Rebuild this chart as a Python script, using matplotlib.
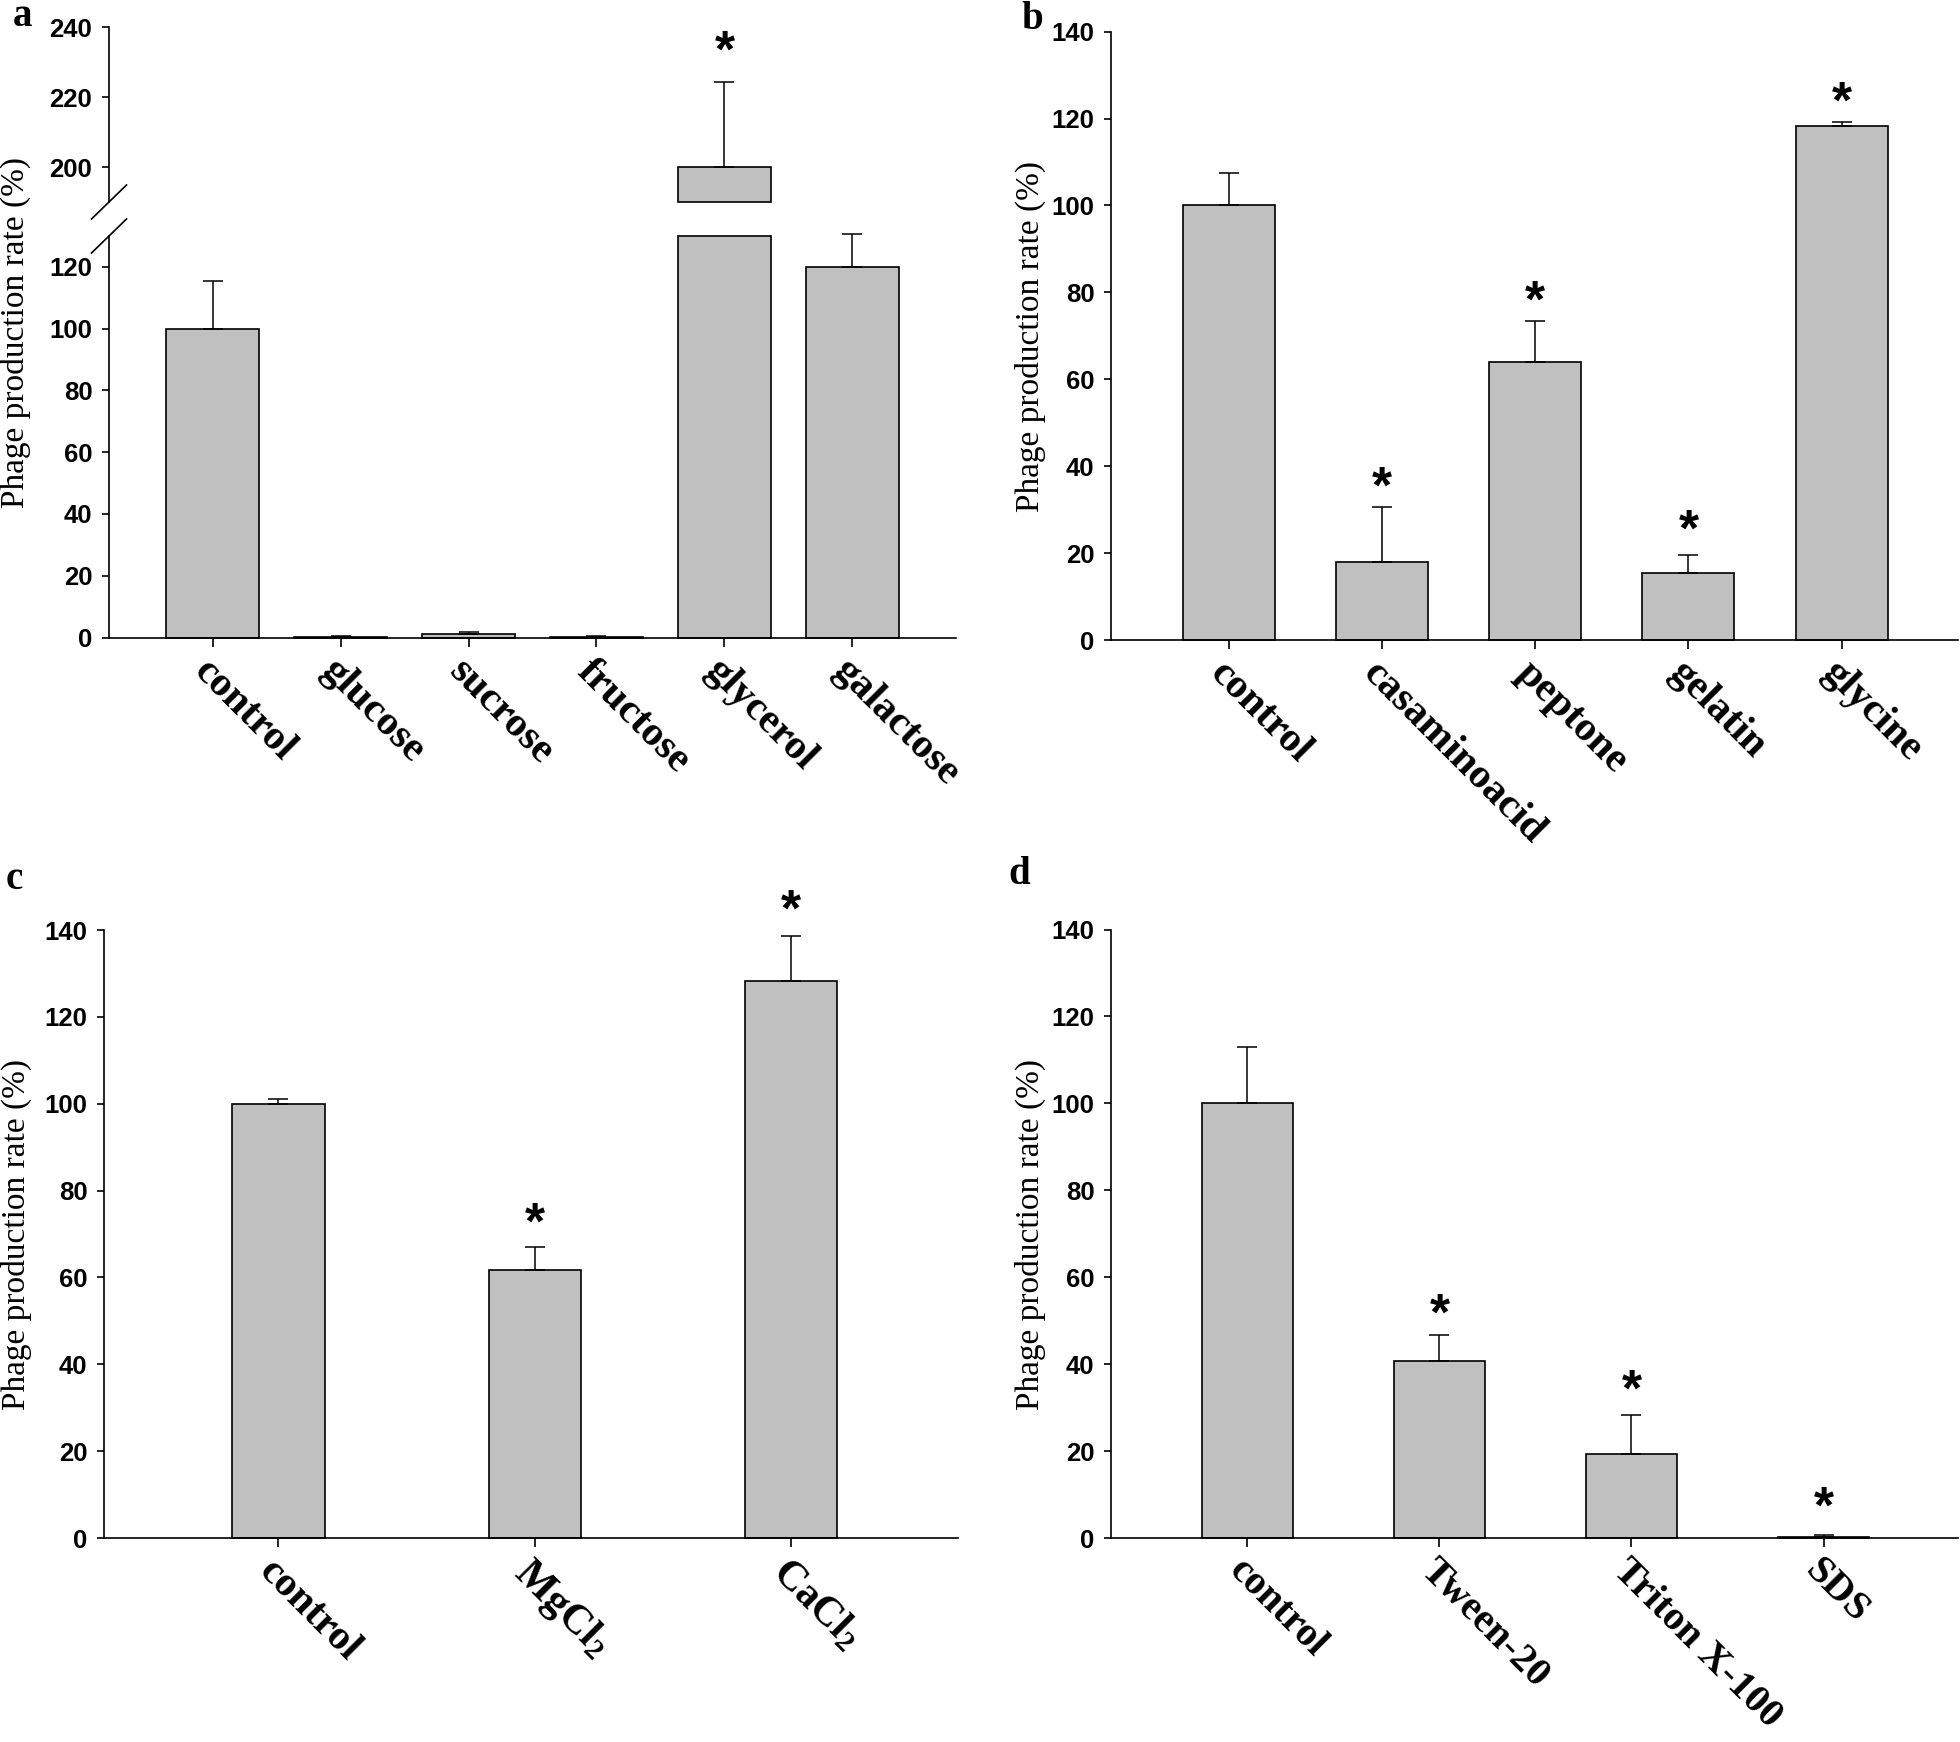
import numpy as np
import matplotlib.pyplot as plt
from matplotlib import transforms

plt.rcParams['mathtext.fontset'] = 'custom'
plt.rcParams['mathtext.rm'] = 'Liberation Serif:bold'
plt.rcParams['mathtext.it'] = 'Liberation Serif:bold'
plt.rcParams['mathtext.default'] = 'rm'

# ---- data ----
a_labels = ['control', 'glucose', 'sucrose', 'fructose', 'glycerol', 'galactose']
a_vals = np.array([100, 0.05, 1.2, 0.05, 200, 120])
a_err = np.array([15.3, 0.3, 0.6, 0.3, 24.5, 10.8])
a_star = [None, None, None, None, 236, None]
A_LOW_MAX, A_HIGH_MIN = 130, 190

b_labels = ['control', 'casaminoacid', 'peptone', 'gelatin', 'glycine']
b_vals = np.array([100, 18.0, 63.9, 15.5, 118.2])
b_err = np.array([7.5, 12.6, 9.6, 4.1, 1.1])
b_star = [None, 37.3, 80.0, 27.5, 125.8]

c_labels = ['control', 'MgCl$_2$', 'CaCl$_2$']
c_vals = np.array([100, 61.6, 128.3])
c_err = np.array([1.2, 5.3, 10.3])
c_star = [None, 74.6, 146.8]

d_labels = ['control', 'Tween-20', 'Triton X-100', 'SDS']
d_vals = np.array([100, 40.7, 19.3, 0.3])
d_err = np.array([12.9, 6.0, 9.0, 0.3])
d_star = [None, 53.6, 36.1, 9.2]

W, H = 1960, 1742
fig = plt.figure(figsize=(W / 100, H / 100), dpi=100)

BAR = '#c0c0c0'
LW = 1.2
STAR_SIZE = 37


def add_ax(x0, x1, y0, y1):
    # pixel box, y measured from the top
    return fig.add_axes([x0 / W, 1 - y1 / H, (x1 - x0) / W, (y1 - y0) / H])


def style_y(ax, ticks):
    ax.spines['top'].set_visible(False)
    ax.spines['right'].set_visible(False)
    ax.spines['left'].set_linewidth(LW)
    ax.spines['bottom'].set_linewidth(LW)
    ax.set_yticks(ticks)
    ax.set_yticklabels([str(t) for t in ticks], fontfamily='Liberation Sans',
                       fontweight='bold', fontsize=18.5)
    ax.tick_params(axis='y', length=5, width=LW, pad=7)


def style_x(ax, labels, size=30):
    x = np.arange(len(labels))
    ax.set_xticks(x)
    ax.set_xticklabels(labels, rotation=-45, ha='left', va='top',
                       rotation_mode='anchor', fontfamily='Liberation Serif',
                       fontweight='bold', fontsize=size)
    ax.tick_params(axis='x', length=6.5, width=LW, pad=4)


def errs(ax, x, vals, err):
    ax.errorbar(x, vals, yerr=[np.zeros(len(vals)), err], fmt='none',
                ecolor='black', elinewidth=1.1, capsize=7, capthick=1.1,
                zorder=3, clip_on=False)


def bars(ax, vals, err, width):
    x = np.arange(len(vals))
    ax.bar(x, vals, width, color=BAR, edgecolor='black',
           linewidth=LW, zorder=2, clip_on=False)
    errs(ax, x, vals, err)


def stars(ax, ys):
    tr = transforms.offset_copy(ax.transData, fig=fig, y=-0.48 * STAR_SIZE,
                                units='points')
    for i, y in enumerate(ys):
        if y is None:
            continue
        ax.text(i, y, '*', transform=tr, ha='center', va='baseline',
                fontfamily='Liberation Sans', fontweight='bold',
                fontsize=STAR_SIZE, clip_on=False)


def ylabel(xc, yc):
    fig.text(xc / W, 1 - yc / H, 'Phage production rate (%)', rotation=90,
             ha='center', va='center', fontfamily='Liberation Serif', fontsize=24)


def letter(s, x, y):
    fig.text(x / W, 1 - y / H, s, ha='left', va='baseline',
             fontfamily='Liberation Serif', fontweight='bold', fontsize=28)


# ---- panel a (broken axis) ----
ax_lo = add_ax(109, 956, 236, 637.5)
ax_hi = add_ax(109, 956, 27.5, 202)
xa = np.arange(len(a_vals))

ax_lo.bar(xa, np.minimum(a_vals, A_LOW_MAX), 0.73, color=BAR, edgecolor='black',
          linewidth=LW, zorder=2, clip_on=False)
lo = a_vals < A_LOW_MAX
errs(ax_lo, xa[lo], a_vals[lo], a_err[lo])
ax_lo.set_xlim(-0.81, 5.81)
ax_lo.set_ylim(0, A_LOW_MAX)
style_y(ax_lo, [0, 20, 40, 60, 80, 100, 120])
style_x(ax_lo, a_labels)

hi = a_vals > A_HIGH_MIN
ax_hi.bar(xa[hi], a_vals[hi] - A_HIGH_MIN, 0.73, bottom=A_HIGH_MIN,
          color=BAR, edgecolor='black', linewidth=LW, zorder=2, clip_on=False)
errs(ax_hi, xa[hi], a_vals[hi], a_err[hi])
ax_hi.set_xlim(-0.81, 5.81)
ax_hi.set_ylim(A_HIGH_MIN, 240)
style_y(ax_hi, [200, 220, 240])
ax_hi.spines['bottom'].set_visible(False)
ax_hi.set_xticks([])
stars(ax_hi, a_star)

# break marks on the left spine
for ax, yv in ((ax_hi, 0), (ax_lo, 1)):
    bb = ax.get_position()
    dx = 17.5 / (bb.width * W)
    dy = 17.0 / (bb.height * H)
    ax.plot([-dx, dx], [yv - dy, yv + dy], transform=ax.transAxes,
            color='black', lw=LW, clip_on=False)

# ---- panel b ----
ax_b = add_ax(1111, 1958, 31.7, 640)
bars(ax_b, b_vals, b_err, 0.6)
ax_b.set_xlim(-0.77, 4.76)
ax_b.set_ylim(0, 140)
style_y(ax_b, list(range(0, 141, 20)))
style_x(ax_b, b_labels)
stars(ax_b, b_star)

# ---- panel c ----
ax_c = add_ax(104, 958, 930, 1538)
bars(ax_c, c_vals, c_err, 0.36)
ax_c.set_xlim(-0.68, 2.65)
ax_c.set_ylim(0, 140)
style_y(ax_c, list(range(0, 141, 20)))
style_x(ax_c, c_labels)
stars(ax_c, c_star)

# ---- panel d ----
ax_d = add_ax(1111, 1958, 929.5, 1538)
bars(ax_d, d_vals, d_err, 0.475)
ax_d.set_xlim(-0.71, 3.70)
ax_d.set_ylim(0, 140)
style_y(ax_d, list(range(0, 141, 20)))
style_x(ax_d, d_labels, size=29)
stars(ax_d, d_star)

ylabel(15, 332)
ylabel(1030, 336)
ylabel(16, 1234)
ylabel(1030, 1234)

letter('a', 13, 26)
letter('b', 1021, 29)
letter('c', 6, 889)
letter('d', 1008, 884)

plt.savefig('out.png', dpi=100)
